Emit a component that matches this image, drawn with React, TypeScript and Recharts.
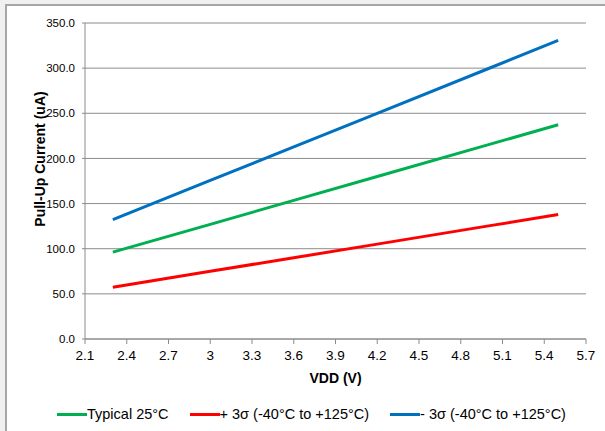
import React from 'react';
import { LineChart, Line, XAxis, YAxis, CartesianGrid, Legend, Label } from 'recharts';

const vdd = [2.3, 3.0, 3.6, 4.2, 5.0, 5.5];
const typical25 = [96.2, 127.0, 153.5, 180.0, 215.3, 237.3];
const plus3Sigma = [57.3, 75.0, 90.0, 105.1, 125.3, 137.8];
const minus3Sigma = [132.2, 175.6, 212.8, 250.0, 299.6, 330.7];
const xTicks = [2.1, 2.4, 2.7, 3, 3.3, 3.6, 3.9, 4.2, 4.5, 4.8, 5.1, 5.4, 5.7];
const yTicks = [0, 50, 100, 150, 200, 250, 300, 350];
const seriesNames = ['Typical 25°C', '+ 3σ (-40°C to +125°C)', '- 3σ (-40°C to +125°C)'];
const seriesColors = ['#00b050', '#ff0000', '#0070c0'];

const data = vdd.map((v, i) => ({
  vdd: v,
  typ: typical25[i],
  plus: plus3Sigma[i],
  minus: minus3Sigma[i],
}));

const FONT = '"Liberation Sans", Arial, sans-serif';

const LegendContent = () => (
  <div style={{ display: 'flex', justifyContent: 'flex-start', paddingLeft: 57, fontFamily: FONT, fontSize: 14.5, lineHeight: '18px', color: '#000' }}>
    {seriesNames.map((n, i) => (
      <div key={n} style={{ display: 'flex', alignItems: 'center', marginLeft: i === 0 ? 0 : 21 }}>
        <div style={{ width: 30, height: 3, background: seriesColors[i] }} />
        <span>{n}</span>
      </div>
    ))}
  </div>
);

const YTitle = (props: any) => {
  const vb = props.viewBox || {};
  const cx = vb.x + 25;
  const cy = vb.y + vb.height / 2 - 22;
  return (
    <text
      x={cx}
      y={cy}
      transform={`rotate(-90 ${cx} ${cy})`}
      textAnchor="middle"
      dominantBaseline="central"
      fontFamily={FONT}
      fontSize={14}
      fontWeight="bold"
      fill="#000"
    >
      Pull-Up Current (uA)
    </text>
  );
};

export default function App() {
  return (
    <div style={{ position: 'absolute', left: 0, top: 0, width: 605, height: 431, background: '#f0f0f0', overflow: 'hidden' }}>
      <div
        style={{
          position: 'absolute',
          left: 5,
          top: 4,
          width: 610,
          height: 440,
          background: '#fff',
          borderLeft: '2px solid #a6a6a6',
          borderTop: '2px solid #a6a6a6',
        }}
      />
      <div style={{ position: 'absolute', left: 0, top: 0 }}>
        <LineChart width={605} height={431} data={data} margin={{ top: 23, right: 19, left: 15, bottom: 44 }}>
          <CartesianGrid vertical={false} stroke="#8c8c8c" strokeWidth={1} />
          <XAxis
            dataKey="vdd"
            type="number"
            domain={[2.1, 5.7]}
            ticks={xTicks}
            interval={0}
            stroke="#8c8c8c"
            tickSize={5}
            tickMargin={6}
            tick={{ fill: '#000', fontFamily: FONT, fontSize: 13.5 }}
            tickFormatter={(v: number) => String(v)}
          >
            <Label
              value="VDD (V)"
              position="insideTop"
              offset={34}
              style={{ fontFamily: FONT, fontSize: 14, fontWeight: 'bold', fill: '#000' }}
            />
          </XAxis>
          <YAxis
            type="number"
            domain={[0, 350]}
            ticks={yTicks}
            interval={0}
            width={70}
            stroke="#8c8c8c"
            tickSize={3}
            tickMargin={7}
            tick={{ fill: '#000', fontFamily: FONT, fontSize: 11.5 }}
            tickFormatter={(v: number) => v.toFixed(1)}
          >
            <Label content={<YTitle />} />
          </YAxis>
          <Legend
            content={<LegendContent />}
            wrapperStyle={{ position: 'absolute', left: 0, top: 405, width: 605 }}
          />
          <Line dataKey="typ" name={seriesNames[0]} stroke={seriesColors[0]} strokeWidth={3} dot={false} isAnimationActive={false} />
          <Line dataKey="plus" name={seriesNames[1]} stroke={seriesColors[1]} strokeWidth={3} dot={false} isAnimationActive={false} />
          <Line dataKey="minus" name={seriesNames[2]} stroke={seriesColors[2]} strokeWidth={3} dot={false} isAnimationActive={false} />
        </LineChart>
      </div>
    </div>
  );
}
